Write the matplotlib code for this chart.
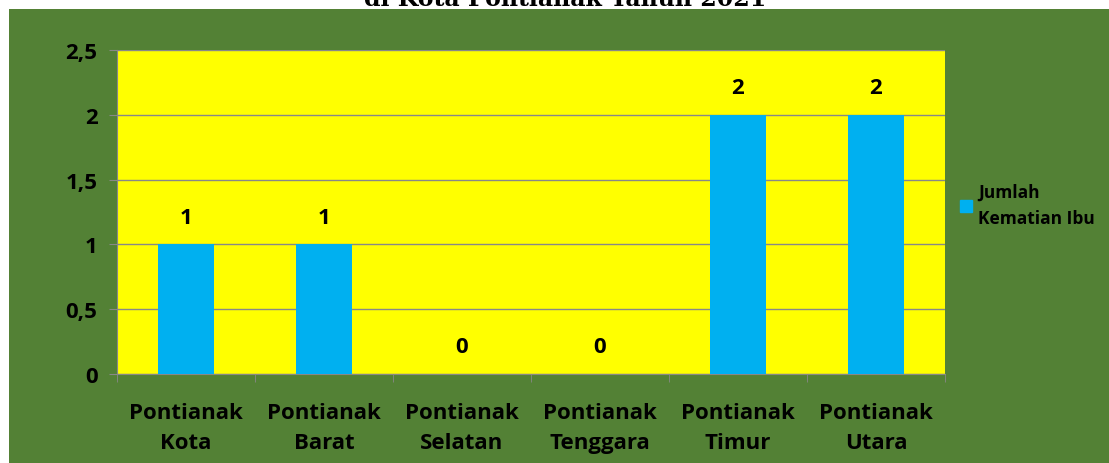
import matplotlib.pyplot as plt
from matplotlib.patches import Rectangle
from matplotlib.lines import Line2D
import numpy as np

# data
kecamatan = ['Pontianak\nKota', 'Pontianak\nBarat', 'Pontianak\nSelatan',
             'Pontianak\nTenggara', 'Pontianak\nTimur', 'Pontianak\nUtara']
kematian_ibu = [1, 1, 0, 0, 2, 2]
ytick_vals = [0, 0.5, 1, 1.5, 2, 2.5]
ytick_labels = ['0', '0,5', '1', '1,5', '2', '2,5']

hijau = '#538135'
kuning = '#FFFF00'
biru = '#00B0F0'

fig = plt.figure(figsize=(11.09, 4.64), dpi=100)
fig.patch.set_facecolor('white')
# green chart area background
fig.patches.append(Rectangle((9/1109, 0), 1 - 9/1109, 1 - 10/464, transform=fig.transFigure,
                             facecolor=hijau, edgecolor='none', zorder=-5))
# title cut off at the top
fig.text(565/1109, 1 - 6/464, 'di Kota Pontianak Tahun 2021', ha='center', va='baseline',
         fontsize=17, fontweight='bold', family='DejaVu Serif', color='black', zorder=2)

ax = fig.add_axes([117/1109, 1 - 375/464, (945-117)/1109, (375-51)/464])
ax.set_facecolor(kuning)
x = np.arange(len(kecamatan))
bars = ax.bar(x, kematian_ibu, width=0.41, color=biru, zorder=3, label='Jumlah\nKematian Ibu')
for xi, v in zip(x, kematian_ibu):
    ax.text(xi, v + 0.21, str(v), ha='center', va='center', fontsize=16,
            fontweight='bold', family='Open Sans')

ax.set_xlim(-0.5, len(kecamatan) - 0.5)
ax.set_ylim(0, 2.5)
ax.set_yticks(ytick_vals)
ax.set_yticklabels(ytick_labels, fontsize=16, fontweight='bold', family='Open Sans')
ax.set_xticks(x)
ax.set_xticklabels(kecamatan, fontsize=16, fontweight='bold', family='Open Sans', linespacing=1.6)
ax.set_xticks(np.arange(-0.5, len(kecamatan)), minor=True)
ax.tick_params(axis='x', which='major', length=0, pad=20)
ax.tick_params(axis='x', which='minor', length=6, color='#888888')
ax.tick_params(axis='y', length=6, color='#888888', pad=8)
ax.grid(axis='y', color='#888888', linewidth=1, zorder=1)
for s in ['top', 'right']:
    ax.spines[s].set_visible(False)
ax.spines['left'].set_color('#888888')
ax.spines['bottom'].set_color('#888888')

handle = Line2D([], [], marker='s', linestyle='none', markersize=9, color=biru)
leg = fig.legend([handle], ['Jumlah\nKematian Ibu'], loc='upper left',
                 bbox_to_anchor=(940/1109, 1 - 168/464), frameon=False,
                 prop={'family': 'Open Sans', 'weight': 'bold', 'size': 12.5},
                 handletextpad=0.1, handlelength=1.2)
for t in leg.get_texts():
    t.set_linespacing(1.6)

fig.savefig('out.png', dpi=100, facecolor=fig.get_facecolor())
